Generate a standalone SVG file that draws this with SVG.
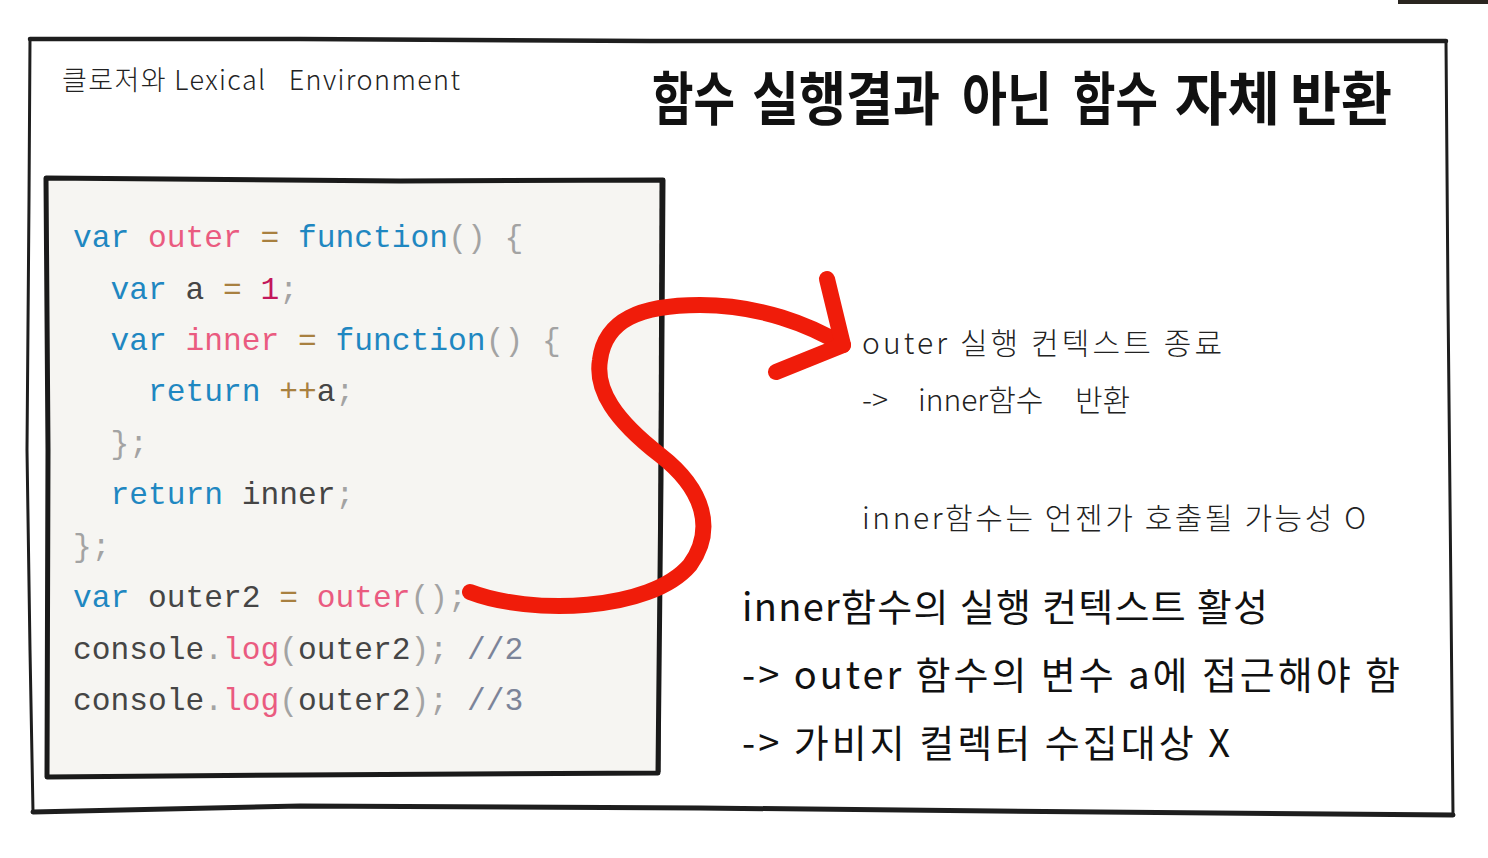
<svg xmlns="http://www.w3.org/2000/svg" width="1488" height="858" viewBox="0 0 1488 858">
<style>
.frame{fill:none;stroke:#1e1e1e;stroke-linecap:round;stroke-linejoin:round}
.code{font-family:"Liberation Mono","DejaVu Sans Mono",monospace;font-size:31.25px;fill:#454545}
.kw{fill:#1f87c1}
.nm{fill:#ea5b80}
.op{fill:#a88040}
.num{fill:#c3175b}
.pn{fill:#a3a3a3}
.cm{fill:#7c8499}
.hand{font-family:"Noto Sans CJK KR","Noto Sans",sans-serif;fill:#222}
.note{font-size:30px;font-weight:300}
.big{font-size:38px;font-weight:400;fill:#111}
.head{font-size:58px;font-weight:600;fill:#111}
.arrow{fill:none;stroke:#f01c0a;stroke-width:16;stroke-linecap:round;stroke-linejoin:round}
</style>
<rect width="1488" height="858" fill="#ffffff"/>
<rect x="1398" y="0" width="90" height="4" fill="#2a2520"/>

<g id="outer-frame">
  <path class="frame" stroke-width="4.5" d="M30,39 L300,39 L650,41 L1000,41 L1446,41"/>
  <path class="frame" stroke-width="3" d="M30,39 L29,200 L27,450 L30,650 L33,812"/>
  <path class="frame" stroke-width="5" d="M33,812 L300,806 L700,808 L1100,812 L1453,815"/>
  <path class="frame" stroke-width="3" d="M1446,41 L1448,300 L1451,600 L1453,815"/>
</g>

<g id="title">
  <text class="hand" x="62" y="90" font-size="27" font-weight="300" fill="#3a3a3a" textLength="398" lengthAdjust="spacing" xml:space="preserve">클로저와 Lexical   Environment</text>
</g>

<g id="heading">
  <text class="hand head" x="652" y="120" textLength="83" lengthAdjust="spacingAndGlyphs">함수</text>
  <text class="hand head" x="752" y="120" textLength="188" lengthAdjust="spacingAndGlyphs">실행결과</text>
  <text class="hand head" x="962" y="120" textLength="90" lengthAdjust="spacingAndGlyphs">아닌</text>
  <text class="hand head" x="1073" y="120" textLength="85" lengthAdjust="spacingAndGlyphs">함수</text>
  <text class="hand head" x="1175" y="120" textLength="105" lengthAdjust="spacingAndGlyphs">자체</text>
  <text class="hand head" x="1290" y="120" textLength="102" lengthAdjust="spacingAndGlyphs">반환</text>
</g>

<g id="code-box">
  <path d="M46,178 L400,181 L663,180 L661,480 L658,773 L300,775 L47,777 L48,450 Z" fill="#f6f5f2" stroke="#1a1a1a" stroke-width="5" stroke-linejoin="round"/>
  <path d="M661,182 L659,772" stroke="#1a1a1a" stroke-width="3" fill="none"/>
  <text class="code" xml:space="preserve">
    <tspan x="73" y="247"><tspan class="kw">var</tspan> <tspan class="nm">outer</tspan> <tspan class="op">=</tspan> <tspan class="kw">function</tspan><tspan class="pn">() {</tspan></tspan>
    <tspan x="110.5" y="299"><tspan class="kw">var</tspan> a <tspan class="op">=</tspan> <tspan class="num">1</tspan><tspan class="pn">;</tspan></tspan>
    <tspan x="110.5" y="350"><tspan class="kw">var</tspan> <tspan class="nm">inner</tspan> <tspan class="op">=</tspan> <tspan class="kw">function</tspan><tspan class="pn">() {</tspan></tspan>
    <tspan x="148" y="401"><tspan class="kw">return</tspan> <tspan class="op">++</tspan>a<tspan class="pn">;</tspan></tspan>
    <tspan x="110.5" y="453" class="pn">};</tspan>
    <tspan x="110.5" y="504"><tspan class="kw">return</tspan> inner<tspan class="pn">;</tspan></tspan>
    <tspan x="73" y="556" class="pn">};</tspan>
    <tspan x="73" y="607"><tspan class="kw">var</tspan> outer2 <tspan class="op">=</tspan> <tspan class="nm">outer</tspan><tspan class="pn">();</tspan></tspan>
    <tspan x="73" y="659">console<tspan class="pn">.</tspan><tspan class="nm">log</tspan><tspan class="pn">(</tspan>outer2<tspan class="pn">);</tspan> <tspan class="cm">//2</tspan></tspan>
    <tspan x="73" y="710">console<tspan class="pn">.</tspan><tspan class="nm">log</tspan><tspan class="pn">(</tspan>outer2<tspan class="pn">);</tspan> <tspan class="cm">//3</tspan></tspan>
  </text>
</g>

<g id="connectors">
  <path class="arrow" d="M470,592 C530,615 650,612 690,565 C715,530 705,490 660,455 C615,420 595,390 600,360 C605,320 640,305 700,305 C760,305 810,325 843,345"/>
  <path class="arrow" d="M827,279 L843,345 L776,372"/>
</g>

<g id="note-return">
  <text class="hand note" x="862" y="354" textLength="360" lengthAdjust="spacing">outer 실행 컨텍스트 종료</text>
  <text class="hand note" y="411"><tspan x="862">-&gt;</tspan><tspan x="918">inner함수</tspan><tspan x="1075">반환</tspan></text>
</g>

<g id="note-possible">
  <text class="hand note" x="862" y="529" textLength="504" lengthAdjust="spacing">inner함수는 언젠가 호출될 가능성 O</text>
</g>

<g id="note-active">
  <text class="hand big" x="742" y="621" textLength="526" lengthAdjust="spacing">inner함수의 실행 컨텍스트 활성</text>
  <text class="hand big" x="742" y="689" textLength="658" lengthAdjust="spacing">-&gt; outer 함수의 변수 a에 접근해야 함</text>
  <text class="hand big" x="742" y="757" textLength="488" lengthAdjust="spacing">-&gt; 가비지 컬렉터 수집대상 X</text>
</g>
</svg>
